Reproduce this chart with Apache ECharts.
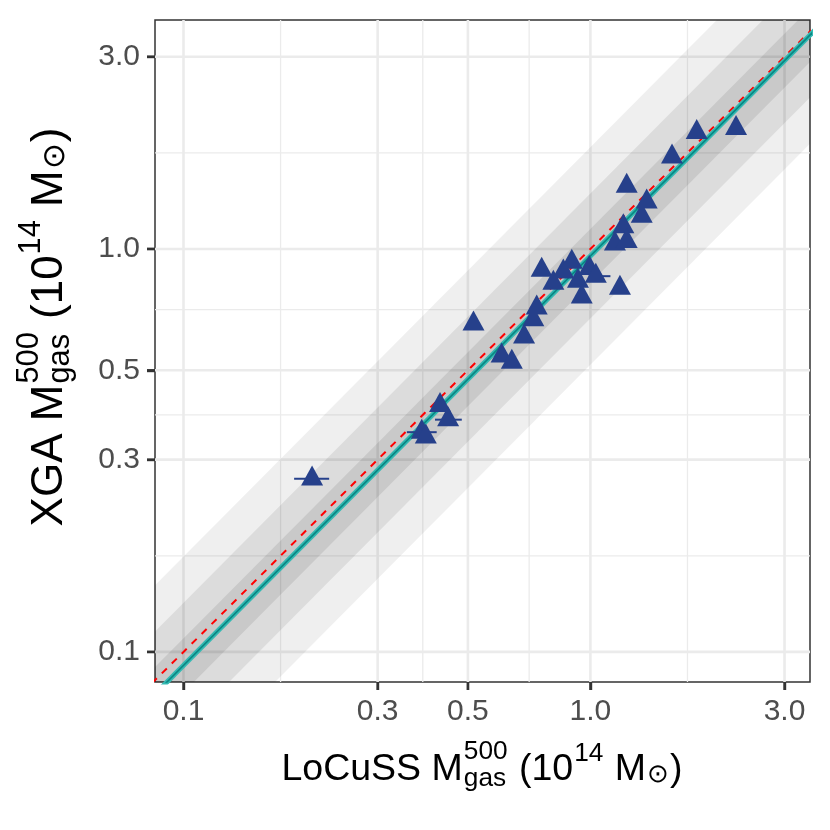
<!DOCTYPE html>
<html>
<head>
<meta charset="utf-8">
<script src="https://cdn.jsdelivr.net/npm/echarts@6/dist/echarts.min.js"></script>
<style>
  html, body { margin: 0; background: #fff; }
  #chart { width: 830px; height: 830px; }
</style>
</head>
<body>
<div id="chart"></div>
<script>
// gas masses inside r500, units of 1e14 Msun
const locussGas = [0.207, 0.385, 0.394, 0.427, 0.447, 0.516, 0.605, 0.641, 0.687, 0.724,
                   0.738, 0.759, 0.811, 0.858, 0.900, 0.932, 0.952, 0.994, 1.031, 1.149,
                   1.182, 1.205, 1.228, 1.228, 1.337, 1.375, 1.587, 1.825, 2.280];
const xgaGas    = [0.269, 0.351, 0.342, 0.409, 0.377, 0.652, 0.543, 0.524, 0.605, 0.668,
                   0.714, 0.887, 0.823, 0.877, 0.928, 0.833, 0.761, 0.895, 0.856, 1.030,
                   0.800, 1.136, 1.045, 1.433, 1.207, 1.310, 1.694, 1.948, 1.993];

// horizontal error bars that stick out of the markers
const errBarY  = [0.269, 0.351, 0.377, 0.856];
const errBarLo = [0.187, 0.354, 0.415, 0.990];
const errBarHi = [0.228, 0.419, 0.483, 1.120];

// axis breaks
const majorTicks = [0.1, 0.3, 0.5, 1.0, 3.0];
const xRange = [0.0851, 3.465];
const yRange = [0.0842, 3.70];

// fitted relation: log10(y) = fitNorm + fitSlope * log10(x)
const fitNorm = -0.0174;
const fitSlope = 1.016;
// half widths (dex) of the shaded bands round the fit, widest first
const bandWidths = [0.27, 0.155, 0.067];

const bandFills = ['rgba(0,0,0,0.063)', 'rgba(0,0,0,0.08)', 'rgba(0,0,0,0.086)'];
const FONT = '"Liberation Sans", Arial, Helvetica, sans-serif';
const TICK_SIZE = 30;
const TICK_LEN = 8;
const GRID = { left: 155, top: 20, right: 20, bottom: 148 };

const minorTicks = majorTicks.slice(1).map((v, i) => Math.sqrt(v * majorTicks[i]));
const fitY = x => Math.pow(10, fitNorm + fitSlope * Math.log10(x));
const xSpan = [xRange[0] * 0.5, xRange[1] * 2];
const lg = v => Math.log10(v);

//测量文字宽度，用来排上下标
const measureCtx = document.createElement('canvas').getContext('2d');
function textWidth(str, size) {
  measureCtx.font = size + 'px ' + FONT;
  return measureCtx.measureText(str).width;
}
function txt(s, x, base, size) {
  return {
    type: 'text', x: x, y: base - 0.31 * size,
    style: { text: s, fontSize: size, fontFamily: FONT, fill: '#000', align: 'left', verticalAlign: 'middle' }
  };
}
// parts: plain text {t}, or stacked {sup, sub}
function mathLabel(parts, size) {
  const small = size * 0.7;
  let x = 0;
  const items = [];
  parts.forEach(p => {
    if (p.t) {
      items.push(txt(p.t, x, 0, size));
      x += textWidth(p.t, size);
      return;
    }
    let w = 0;
    if (p.sup) {
      items.push(txt(p.sup, x + 1, -(p.raise || 0.55) * size, small));
      w = Math.max(w, textWidth(p.sup, small) + 2);
    }
    if (p.sub) {
      items.push(txt(p.sub, x + 1, (p.drop || 0.15) * size, small));
      w = Math.max(w, textWidth(p.sub, small) + 2);
    }
    x += w;
  });
  items.forEach(it => { it.x -= x / 2; });
  return items;
}
function titleParts(name) {
  return [
    { t: name + ' M' }, { sup: '500', sub: 'gas' }, { t: ' (10' }, { sup: '14', raise: 0.5 },
    { t: ' M' }, { sub: '\u2299', drop: 0.05 }, { t: ')' }
  ];
}

//网格线
function gridSeries(values, width) {
  return {
    type: 'custom', z: 1, silent: true, clip: true,
    data: values.map(v => [v, v]),
    renderItem(params, api) {
      const v = values[params.dataIndex];
      const a = api.coord([v, yRange[0]]), b = api.coord([v, yRange[1]]);
      const c = api.coord([xRange[0], v]), d = api.coord([xRange[1], v]);
      const st = { stroke: '#ebebeb', lineWidth: width };
      return {
        type: 'group', children: [
          { type: 'line', shape: { x1: a[0], y1: a[1], x2: b[0], y2: b[1] }, style: st },
          { type: 'line', shape: { x1: c[0], y1: c[1], x2: d[0], y2: d[1] }, style: Object.assign({}, st) }
        ]
      };
    }
  };
}

//刻度线: 按网格位置和对数比例换算
function logFrac(v, range) {
  return (lg(v) - lg(range[0])) / (lg(range[1]) - lg(range[0]));
}
function tickMarks() {
  const w = 830 - GRID.left - GRID.right, h = 830 - GRID.top - GRID.bottom;
  const bottom = GRID.top + h, out = [];
  majorTicks.forEach(v => {
    const px = GRID.left + logFrac(v, xRange) * w;
    const py = bottom - logFrac(v, yRange) * h;
    out.push({ type: 'polyline', z: 50, silent: true,
      shape: { points: [[px, bottom], [px, bottom + TICK_LEN]] }, style: { stroke: '#333333', lineWidth: 2.4, fill: null } });
    out.push({ type: 'polyline', z: 50, silent: true,
      shape: { points: [[GRID.left - TICK_LEN, py], [GRID.left, py]] }, style: { stroke: '#333333', lineWidth: 2.4, fill: null } });
  });
  return out;
}

const chart = echarts.init(document.getElementById('chart'));

const axisCommon = {
  type: 'log', logBase: 10,
  axisLine: { show: false },
  splitLine: { show: false },
  minorTick: { show: false },
  axisTick: { show: false },
  axisLabel: { customValues: majorTicks, formatter: v => Number(v).toFixed(1),
               fontSize: TICK_SIZE, fontFamily: FONT, color: '#4d4d4d' }
};
// 只画刻度线的辅助轴 (对数空间里的数值轴)
const tickAxis = {
  type: 'value', gridIndex: 0,
  axisLine: { show: false }, splitLine: { show: false }, axisLabel: { show: false },
  minorTick: { show: false },
  axisTick: { show: true, inside: false, length: TICK_LEN, customValues: majorTicks.map(lg),
              lineStyle: { color: '#333333', width: 2.4 } }
};

chart.setOption({
  animation: false,
  backgroundColor: '#ffffff',
  grid: Object.assign({ containLabel: false, outerBoundsMode: 'none',
          show: true, borderColor: '#333333', borderWidth: 1.5, backgroundColor: 'transparent' }, GRID),
  xAxis: [
    Object.assign({}, axisCommon, {
      min: xRange[0], max: xRange[1],
      axisLabel: Object.assign({}, axisCommon.axisLabel, { margin: 15 })
    }),
    Object.assign({}, tickAxis, { position: 'bottom', min: lg(xRange[0]), max: lg(xRange[1]) })
  ],
  yAxis: [
    Object.assign({}, axisCommon, {
      min: yRange[0], max: yRange[1],
      axisLabel: Object.assign({}, axisCommon.axisLabel, { margin: 15 })
    }),
    Object.assign({}, tickAxis, { position: 'left', min: lg(yRange[0]), max: lg(yRange[1]) })
  ],
  series: [
    gridSeries(minorTicks, 1.3),
    gridSeries(majorTicks, 2.6),
    {
      //拟合线两侧的灰色带
      type: 'custom', z: 2, silent: true, clip: true,
      data: bandWidths.map(w => [1, 1]),
      renderItem(params, api) {
        const f = Math.pow(10, bandWidths[params.dataIndex]);
        const pts = [
          api.coord([xSpan[0], fitY(xSpan[0]) * f]),
          api.coord([xSpan[1], fitY(xSpan[1]) * f]),
          api.coord([xSpan[1], fitY(xSpan[1]) / f]),
          api.coord([xSpan[0], fitY(xSpan[0]) / f])
        ];
        return { type: 'polygon', shape: { points: pts }, style: { fill: bandFills[params.dataIndex] } };
      }
    },
    {
      type: 'line', z: 3, silent: true, showSymbol: false,
      data: xSpan.map(x => [x, x]),
      lineStyle: { color: '#ff0000', width: 2, type: [7, 7] }
    },
    {
      type: 'line', z: 4, silent: true, showSymbol: false,
      data: xSpan.map(x => [x, fitY(x)]),
      lineStyle: { color: '#33b9b2', width: 5 }
    },
    {
      type: 'line', z: 4, silent: true, showSymbol: false,
      data: xSpan.map(x => [x, fitY(x)]),
      lineStyle: { color: '#0a8683', width: 1.6 }
    },
    {
      type: 'custom', z: 5, silent: true,
      data: errBarY.map((y, i) => [errBarLo[i], y, errBarHi[i]]),
      encode: { x: [0, 2], y: 1 },
      renderItem(params, api) {
        const a = api.coord([api.value(0), api.value(1)]);
        const b = api.coord([api.value(2), api.value(1)]);
        return { type: 'line', shape: { x1: a[0], y1: a[1], x2: b[0], y2: b[1] },
                 style: { stroke: '#26408b', lineWidth: 2 } };
      }
    },
    {
      type: 'scatter', z: 6,
      data: locussGas.map((x, i) => [x, xgaGas[i]]),
      symbol: 'triangle', symbolSize: [22, 20], symbolOffset: [0, -3.3],
      itemStyle: { color: '#26408b', opacity: 1 }
    }
  ],
  graphic: tickMarks().concat([
    { type: 'group', x: 482, y: 781, children: mathLabel(titleParts('LoCuSS'), 37.5) },
    { type: 'group', x: 63, y: 327, rotation: Math.PI / 2, children: mathLabel(titleParts('XGA'), 44) }
  ])
});
</script>
</body>
</html>
